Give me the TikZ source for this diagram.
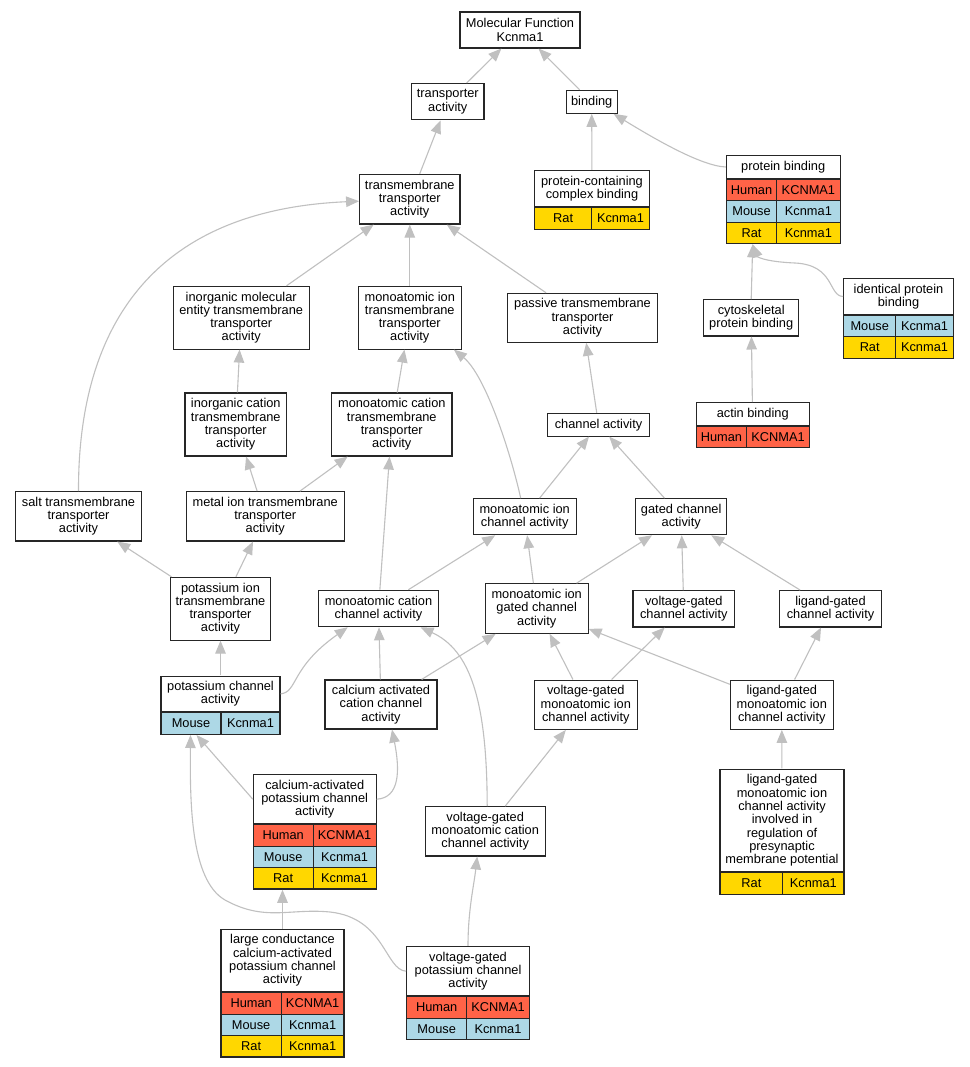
\documentclass[tikz,border=0pt]{standalone}
\usepackage{fontspec}
\setmainfont{Liberation Sans}
\usepackage{tikz}
\usetikzlibrary{arrows.meta, fit}
\definecolor{human}{HTML}{FF6347}
\definecolor{mouse}{HTML}{ADD8E6}
\definecolor{rat}{HTML}{FFD700}
\definecolor{edgegray}{HTML}{C0C0C0}
\def\gofont{\fontsize{12.8}{13.3}\selectfont}
% rows of a gene table below the title node #1-t
\newcommand{\generows}[4]{%
	\foreach \sp/\org/\gene [count=\i] in {#4} {
		\node[cell, fill=\sp, minimum width=#2, anchor=north west] (#1-\i-l) at ([yshift={-(\i-1)*21.4pt}]#1-t.south west) {\org};
		\node[cell, fill=\sp, minimum width=#3, anchor=north east] (#1-\i-r) at ([yshift={-(\i-1)*21.4pt}]#1-t.south east) {\gene};
		\node[fit=(#1-t)(#1-\i-l)(#1-\i-r), inner sep=0pt] (#1) {};
	}%
}

\begin{document}
\begin{tikzpicture}[x=1pt, y=-1pt, font=\gofont,
	term/.style={draw=black!85, line width=1.1pt, fill=white, align=center, inner sep=0pt},
	cell/.style={draw=black!85, line width=1.1pt, minimum height=21.4pt, inner sep=0pt},
	edge/.style={draw=edgegray, line width=1.1pt, -{Triangle[length=13pt, width=10.5pt]}}]
	
		\useasboundingbox[fill=white] (0,0) rectangle (969,1067);
		
		% Nodes
		\node[term, minimum width=120pt, minimum height=36pt] (mf) at (520,30) {Molecular Function\\Kcnma1};
		\node[term, minimum width=72.3pt, minimum height=36.3pt] (ta) at (447.8,101.8) {transporter\\activity};
		\node[term, minimum width=50.7pt, minimum height=23pt] (bind) at (591.7,101.8) {binding};
		\node[term, minimum width=100.3pt, minimum height=49.7pt] (tt) at (409.8,199.2) {transmembrane\\transporter\\activity};
		
		\node[term, minimum width=114.6pt, minimum height=36pt] (pccb-t) at (592,188.7) {protein-containing\\complex binding};
		\generows{pccb}{57pt}{57.6pt}{rat/Rat/Kcnma1}
		
		\node[term, minimum width=113.7pt, minimum height=22.6pt] (pb-t) at (783.2,167) {protein binding};
		\generows{pb}{50.4pt}{63.3pt}{human/Human/KCNMA1, mouse/Mouse/Kcnma1, rat/Rat/Kcnma1}
		
		\node[term, minimum width=136.3pt, minimum height=62.7pt] (imet) at (241.2,317.7) {inorganic molecular\\entity transmembrane\\transporter\\activity};
		\node[term, minimum width=103pt, minimum height=62.7pt] (mitt) at (409.8,317.7) {monoatomic ion\\transmembrane\\transporter\\activity};
		\node[term, minimum width=149.6pt, minimum height=49pt] (ptt) at (582.5,317.8) {passive transmembrane\\transporter\\activity};
		\node[term, minimum width=95pt, minimum height=36.3pt] (cpb) at (751.2,317.8) {cytoskeletal\\protein binding};
		
		\node[term, minimum width=109.6pt, minimum height=35.6pt] (ipb-t) at (898.5,296.5) {identical protein\\binding};
		\generows{ipb}{52pt}{57.6pt}{mouse/Mouse/Kcnma1, rat/Rat/Kcnma1}
		
		\node[term, minimum width=113.3pt, minimum height=22.3pt] (ab-t) at (752.7,413.9) {actin binding};
		\generows{ab}{50.7pt}{62.6pt}{human/Human/KCNMA1}
		
		\node[term, minimum width=101.6pt, minimum height=22.7pt] (ca) at (598.5,424.7) {channel activity};
		\node[term, minimum width=101.7pt, minimum height=63pt] (ictt) at (235.8,424.5) {inorganic cation\\transmembrane\\transporter\\activity};
		\node[term, minimum width=120.3pt, minimum height=63pt] (mctt) at (391.8,424.5) {monoatomic cation\\transmembrane\\transporter\\activity};
		\node[term, minimum width=125.6pt, minimum height=49.3pt] (stt) at (78.5,516.3) {salt transmembrane\\transporter\\activity};
		\node[term, minimum width=157.7pt, minimum height=49.3pt] (mett) at (265.2,516.3) {metal ion transmembrane\\transporter\\activity};
		\node[term, minimum width=102.7pt, minimum height=36pt] (mic) at (524.7,516.7) {monoatomic ion\\channel activity};
		\node[term, minimum width=91pt, minimum height=36pt] (gc) at (681.2,516.7) {gated channel\\activity};
		
		\node[term, minimum width=100.4pt, minimum height=62.7pt] (pitt) at (220.5,608.7) {potassium ion\\transmembrane\\transporter\\activity};
		\node[term, minimum width=120.4pt, minimum height=36.4pt] (mcc) at (378.5,608.5) {monoatomic cation\\channel activity};
		\node[term, minimum width=102.7pt, minimum height=49.6pt] (migc) at (536.7,608.5) {monoatomic ion\\gated channel\\activity};
		\node[term, minimum width=101.7pt, minimum height=36.3pt] (vgc) at (683.8,608.8) {voltage-gated\\channel activity};
		\node[term, minimum width=101.6pt, minimum height=36.3pt] (lgc) at (830.5,608.8) {ligand-gated\\channel activity};
		
		\node[term, minimum width=119pt, minimum height=35.7pt] (pca-t) at (220.5,693.9) {potassium channel\\activity};
		\generows{pca}{60pt}{59pt}{mouse/Mouse/Kcnma1}
		
		\node[term, minimum width=112pt, minimum height=49pt] (cacc) at (381,704.5) {calcium activated\\cation channel\\activity};
		\node[term, minimum width=103pt, minimum height=49.3pt] (vgmic) at (585.8,704.7) {voltage-gated\\monoatomic ion\\channel activity};
		\node[term, minimum width=103pt, minimum height=49.3pt] (lgmic) at (781.8,704.7) {ligand-gated\\monoatomic ion\\channel activity};
		
		\node[term, minimum width=122.7pt, minimum height=49pt] (capc-t) at (314.7,799.2) {calcium-activated\\potassium channel\\activity};
		\generows{capc}{59.7pt}{63pt}{human/Human/KCNMA1, mouse/Mouse/Kcnma1, rat/Rat/Kcnma1}
		
		\node[term, minimum width=120.3pt, minimum height=49.3pt] (vgmcc) at (485.2,831.3) {voltage-gated\\monoatomic cation\\channel activity};
		
		\node[term, minimum width=124pt, minimum height=102.7pt] (lgp-t) at (782,820.4) {ligand-gated\\monoatomic ion\\channel activity\\involved in\\regulation of\\presynaptic\\membrane potential};
		\generows{lgp}{62.7pt}{61.3pt}{rat/Rat/Kcnma1}
		
		\node[term, minimum width=123pt, minimum height=62.4pt] (lcc-t) at (282.5,960.5) {large conductance\\calcium-activated\\potassium channel\\activity};
		\generows{lcc}{60.3pt}{62.7pt}{human/Human/KCNMA1, mouse/Mouse/Kcnma1, rat/Rat/Kcnma1}
		
		\node[term, minimum width=122.6pt, minimum height=49pt] (vgpc-t) at (468,971.2) {voltage-gated\\potassium channel\\activity};
		\generows{vgpc}{60pt}{62.6pt}{human/Human/KCNMA1, mouse/Mouse/Kcnma1}
		
		% Arrows
		\coordinate (pbin) at ([xshift=-30.5pt]pb.south);
		\draw[edge] (ta) -- (mf);
		\draw[edge] (bind) -- (mf);
		\draw[edge] (tt) -- (ta);
		\draw[edge] (pccb) -- (bind);
		\draw[edge] (pb-t.west) .. controls (700,166) and (650,136) .. ([xshift=-4pt]bind.south east);
		\draw[edge] (imet) -- (tt);
		\draw[edge] (mitt) -- (tt);
		\draw[edge] (ptt) -- (tt);
		\draw[edge] (stt.north) .. controls (78,330) and (150,210) .. ([yshift=-2pt]tt.west);
		\draw[edge] (cpb.north) -- (pbin);
		\draw[edge] (ipb-t.west) .. controls (828,296) and (835,265) .. (795,263) .. controls (770,262) and (758,258) .. (pbin);
		\draw[edge] (ab) -- (cpb);
		\draw[edge] (ca) -- (ptt);
		\draw[edge] (ictt) -- (imet);
		\draw[edge] (mctt) -- (mitt);
		\draw[edge] (mett) -- (ictt);
		\draw[edge] (mett) -- (mctt);
		\draw[edge] (pitt) -- (stt);
		\draw[edge] (pitt) -- (mett);
		\draw[edge] (mic) -- (ca);
		\draw[edge] ([xshift=-4pt]mic.north) .. controls (510,450) and (485,375) .. ([xshift=-8pt]mitt.south east);
		\draw[edge] (gc) -- (ca);
		\draw[edge] (mcc) -- (mctt);
		\draw[edge] (mcc) -- (mic);
		\draw[edge] (migc) -- (mic);
		\draw[edge] (migc) -- (gc);
		\draw[edge] (vgc) -- (gc);
		\draw[edge] (lgc) -- (gc);
		\draw[edge] (pca) -- (pitt);
		\draw[edge] (pca-t.east) .. controls (298,692) and (290,668) .. ([xshift=30pt]mcc.south west);
		\draw[edge] (cacc) -- (mcc);
		\draw[edge] (cacc) -- (migc);
		\draw[edge] (vgmic) -- (migc);
		\draw[edge] (vgmic) -- (vgc);
		\draw[edge] (lgmic) -- (migc);
		\draw[edge] (lgmic) -- (lgc);
		\draw[edge] (capc-t.west) -- ([xshift=-24pt]pca.south);
		\draw[edge] (capc-t.east) .. controls (400,798) and (400,770) .. ([xshift=11pt]cacc.south);
		\draw[edge] ([xshift=2pt]vgmcc.north) .. controls (487,700) and (470,650) .. ([xshift=42pt]mcc.south);
		\draw[edge] (vgmcc) -- (vgmic);
		\draw[edge] (lgp) -- (lgmic);
		\draw[edge] (lcc.north) -- (lcc.north |- capc.south);
		\draw[edge] (vgpc.north) .. controls (468,910) and (474,885) .. ([xshift=-8pt]vgmcc.south);
		\draw[edge] (vgpc-t.west) .. controls (385,970) and (385,918) .. (330,912) .. controls (290,908) and (265,922) .. (225,900) .. controls (190,880) and (190,800) .. ([xshift=-30pt]pca.south);
		
\end{tikzpicture}
\end{document}
